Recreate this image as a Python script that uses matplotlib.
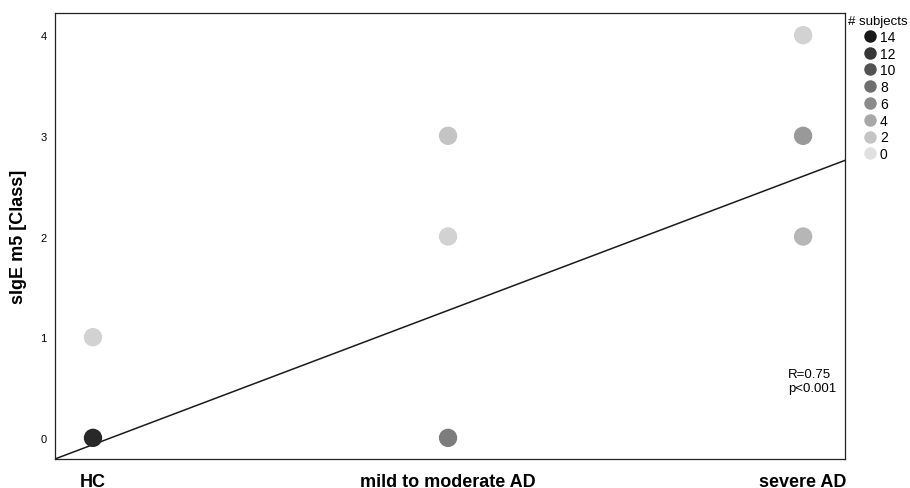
import matplotlib
matplotlib.use("Agg")
import matplotlib.pyplot as plt
from matplotlib.lines import Line2D
import numpy as np

plt.rcParams['font.family'] = ['Liberation Sans', 'DejaVu Sans']

categories = ["HC", "mild to moderate AD", "severe AD"]
point_group = [0, 0, 1, 1, 1, 2, 2, 2]
point_class = [0, 1, 0, 2, 3, 2, 3, 4]
point_count = [13, 1, 7, 1, 2, 3, 5, 1]
legend_counts = [14, 12, 10, 8, 6, 4, 2, 0]
fit_intercept = -0.067
fit_slope = 1.333
y_ticks = [0, 1, 2, 3, 4]
stat_text = "R=0.75\np<0.001"

def grey(c):
    v = 0.88 - c * (0.88 - 0.10) / 14.0
    return (v, v, v)

fig = plt.figure(figsize=(9.1, 4.89), dpi=100)
ax = fig.add_axes([55/910, 29/489, 790/910, 446/489])

ax.scatter(point_group, point_class, s=175, c=[grey(c) for c in point_count],
           edgecolors='none', zorder=3)

xlim = (-0.107, 2.118)
xs = np.array(xlim)
ax.plot(xs, fit_intercept + fit_slope * xs, color='#1a1a1a', lw=1.1, zorder=2)
ax.set_xlim(*xlim)
ax.set_ylim(-0.21, 4.22)

ax.set_xticks(range(len(categories)))
ax.set_xticklabels(categories, fontsize=13, fontweight='bold')
ax.set_yticks(y_ticks)
ax.set_yticklabels([str(t) for t in y_ticks], fontsize=8)
ax.tick_params(axis='x', length=0, pad=10)
ax.tick_params(axis='y', length=0, pad=6)
ax.set_ylabel("sIgE m5 [Class]", fontsize=13, fontweight='bold')
ax.yaxis.set_label_coords(-0.036, 0.5)
for sp in ax.spines.values():
    sp.set_linewidth(0.9)
    sp.set_color('#222222')

ax.text(0.928, 0.204, stat_text, transform=ax.transAxes, fontsize=9.5,
        ha='left', va='top', linespacing=1.2)

handles = [Line2D([0], [0], marker='o', linestyle='none', markersize=9,
                  markerfacecolor=grey(c), markeredgecolor='none') for c in legend_counts]
leg = fig.legend(handles, [str(c) for c in legend_counts], title="# subjects",
                 loc='upper left', bbox_to_anchor=(848/910, 1 - 16/489),
                 frameon=False, fontsize=10, title_fontsize=9.5,
                 labelspacing=0.2, handletextpad=-0.85, handlelength=3.15,
                 borderpad=0.0, borderaxespad=0.0)
leg._legend_box.align = "left"

fig.savefig("out.png", dpi=100)
